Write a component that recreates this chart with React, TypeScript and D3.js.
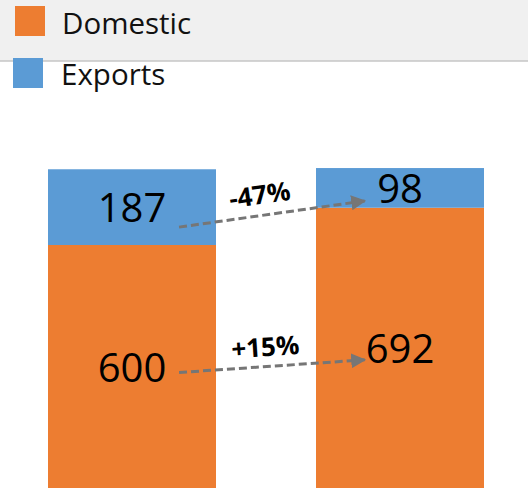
import React, { useEffect, useRef } from 'react';
import * as d3 from 'd3';

const PERIODS = ['Before', 'After'];
const DOMESTIC = [600, 692];
const EXPORTS = [187, 98];
const SERIES = ['Domestic', 'Exports'];
const CHANGES = ['-47%', '+15%'];

const COLORS: Record<string, string> = { Domestic: '#ED7D31', Exports: '#5B9BD5' };
const FONT = '"Open Sans", "Noto Sans", sans-serif';

export default function App() {
  const ref = useRef<SVGSVGElement>(null);

  useEffect(() => {
    const el = ref.current;
    if (!el) return;
    const W = 528;
    const H = 488;
    const svg = d3.select(el).attr('width', W).attr('height', H).attr('viewBox', `0 0 ${W} ${H}`);
    svg.selectAll('*').remove();

    // bars ~168px wide, first one starting at x=48
    const xb = d3.scaleBand().domain(PERIODS).range([48, 484]).paddingInner(100 / 268).paddingOuter(0);
    const y = d3.scaleLinear().domain([0, 800]).range([488, 164]);

    const rows = PERIODS.map((p, i) => ({ period: p, Domestic: DOMESTIC[i], Exports: EXPORTS[i] }));
    const stack = d3.stack<any>().keys(SERIES)(rows);

    // legend band
    svg.append('rect').attr('x', 0).attr('y', 0).attr('width', W).attr('height', 61).attr('fill', '#f0f0f0');
    svg.append('line').attr('x1', 0).attr('x2', W).attr('y1', 61).attr('y2', 61)
      .attr('stroke', '#c6c6c6').attr('stroke-width', 1.5);

    const legend = [
      { key: 'Domestic', sx: 15, sy: 6, tx: 62, ty: 34 },
      { key: 'Exports', sx: 13, sy: 58, tx: 61, ty: 85 },
    ];
    legend.forEach((l) => {
      svg.append('rect').attr('x', l.sx).attr('y', l.sy).attr('width', 30).attr('height', 30).attr('fill', COLORS[l.key]);
      svg.append('text').attr('x', l.tx).attr('y', l.ty).attr('font-family', FONT).attr('font-size', 29.5)
        .attr('fill', '#111').text(l.key);
    });

    // bars
    stack.forEach((s) => {
      svg.append('g').selectAll('rect').data(s).join('rect')
        .attr('x', (d: any) => xb(d.data.period) ?? 0)
        .attr('width', xb.bandwidth())
        .attr('y', (d) => y(d[1]))
        .attr('height', (d) => y(d[0]) - y(d[1]))
        .attr('fill', COLORS[s.key]);
    });

    // value labels
    stack.forEach((s) => {
      svg.append('g').selectAll('text').data(s).join('text')
        .attr('x', (d: any) => (xb(d.data.period) ?? 0) + xb.bandwidth() / 2)
        .attr('y', (d) => (y(d[0]) + y(d[1])) / 2 + 15)
        .attr('text-anchor', 'middle')
        .attr('font-family', FONT)
        .attr('font-size', 40)
        .attr('fill', '#000')
        .text((d: any) => d.data[s.key]);
    });

    // arrows
    const defs = svg.append('defs');
    defs.append('marker').attr('id', 'arr').attr('viewBox', '0 0 10 10').attr('refX', 9).attr('refY', 5)
      .attr('markerWidth', 5).attr('markerHeight', 5).attr('markerUnits', 'strokeWidth').attr('orient', 'auto')
      .append('path').attr('d', 'M0,0 L10,5 L0,10 Z').attr('fill', '#767676');

    const order = ['Exports', 'Domestic'];
    order.forEach((key, k) => {
      const s = stack.find((t) => t.key === key)!;
      const a = s[0];
      const b = s[1];
      const x1 = (xb(PERIODS[0]) ?? 0) + xb.bandwidth() * 0.78;
      const y1 = (y(a[0]) + y(a[1])) / 2 + (key === 'Exports' ? 20 : 6);
      const x2 = (xb(PERIODS[1]) ?? 0) + xb.bandwidth() * 0.29;
      const y2 = (y(b[0]) + y(b[1])) / 2 + (key === 'Exports' ? 13 : 12);
      svg.append('line').attr('x1', x1).attr('y1', y1).attr('x2', x2).attr('y2', y2)
        .attr('stroke', '#767676').attr('stroke-width', 3).attr('stroke-dasharray', '8 4')
        .attr('marker-end', 'url(#arr)');
      const ang = (Math.atan2(y2 - y1, x2 - x1) * 180) / Math.PI;
      const cx = (x1 + x2) / 2 - 11 + (key === 'Domestic' ? 5 : 0);
      const cy = (y1 + y2) / 2 - 10;
      svg.append('text')
        .attr('transform', `translate(${cx},${cy}) rotate(${ang})`)
        .attr('text-anchor', 'middle')
        .attr('font-family', FONT)
        .attr('font-weight', 700)
        .attr('font-size', 26)
        .attr('fill', '#000')
        .text(CHANGES[k]);
    });
  }, []);

  return (
    <svg ref={ref} style={{ position: 'absolute', left: 0, top: 0, display: 'block', background: '#fff' }} />
  );
}
